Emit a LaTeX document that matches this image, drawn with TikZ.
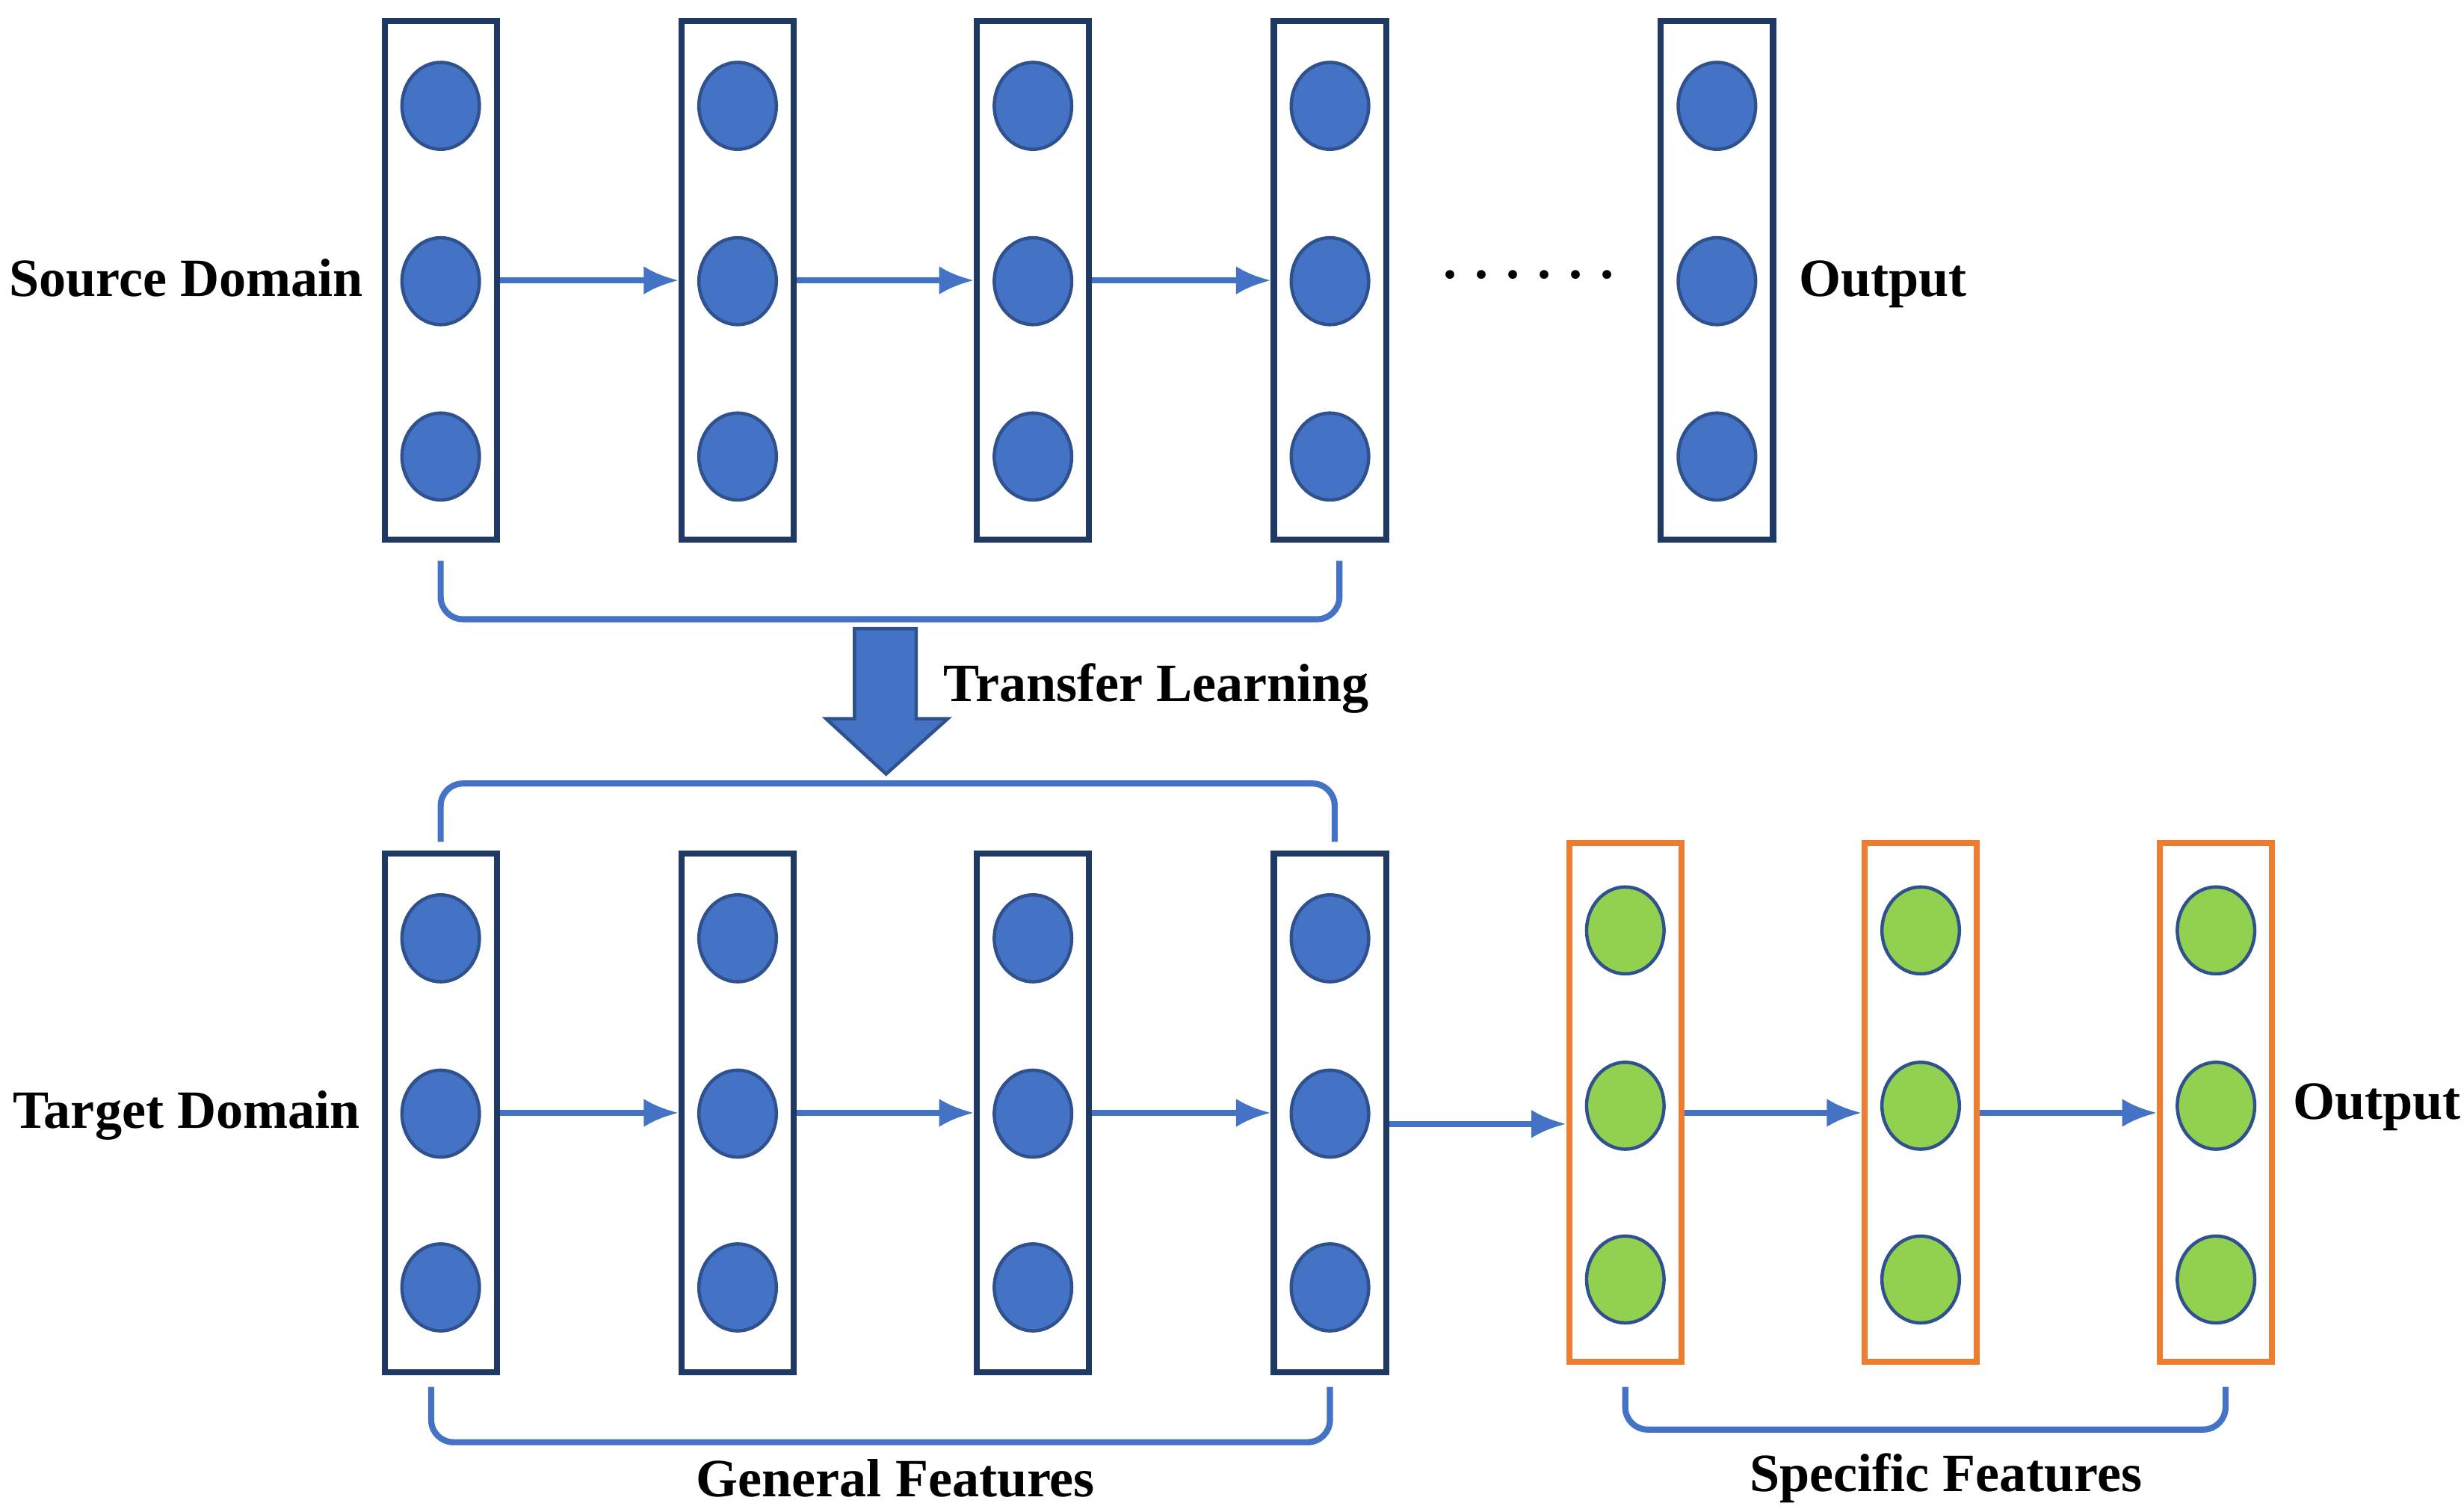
\documentclass[tikz,border=0pt]{standalone}
\usepackage{fontspec}
\setmainfont{Liberation Serif}
\usetikzlibrary{arrows.meta,shapes.geometric}
\definecolor{navy}{HTML}{1F3864}
\definecolor{cblue}{HTML}{4472C4}
\definecolor{cedge}{HTML}{2F528F}
\definecolor{cgreen}{HTML}{92D050}
\definecolor{corange}{HTML}{ED7D31}
\tikzset{
  layer/.style={draw=navy,line width=1.1pt,minimum width=0.71cm,minimum height=3.28cm,inner sep=0pt},
  spec/.style={layer,draw=corange},
  unit/.style={ellipse,draw=cedge,fill=cblue,line width=0.6pt,minimum width=0.49cm,minimum height=0.55cm,inner sep=0pt},
  gunit/.style={unit,fill=cgreen},
  arr/.style={cblue,line width=1pt,-{Latex[length=2.2mm,width=1.8mm]}},
  brk/.style={cblue,line width=1.1pt,rounded corners=4pt},
  lbl/.style={font=\bfseries\fontsize{9.7}{12}\selectfont}
}
\begin{document}
\begin{tikzpicture}[x=0.01cm,y=-0.01cm]
\useasboundingbox (0,0) rectangle (1560,957);

% source network
\foreach \i/\x in {1/279,2/467,3/654,4/842,5/1087}{
  \node[layer] (s\i) at (\x,177.5) {};
  \foreach \j/\y in {1/67,2/178,3/289}
    \node[unit] (s\i u\j) at (\x,\y) {};
}
\foreach \i/\k in {1/2,2/3,3/4}
  \draw[arr] (s\i.east) -- (s\k.west);
\node[lbl] (sdots) at (968,174) {.\,\,.\,\,.\,\,.\,\,.\,\,.};
\node[lbl] (srclbl) at (118,176) {Source Domain};
\node[lbl] (outtop) at (1192,180) {Output};
\draw[brk] (279,355) -- (279,392) -- (848,392) -- (848,355);

% transfer arrow
\draw[cedge,fill=cblue,line width=0.6pt] (541,398) -- (580,398) -- (580,455) -- (600,455)
  -- (561,490) -- (523,455) -- (541,455) -- cycle;
\node[lbl,anchor=west] (trlbl) at (585,436) {Transfer Learning};

% target network
\draw[brk] (279,533) -- (279,496) -- (845,496) -- (845,533);
\foreach \i/\x in {1/279,2/467,3/654,4/842}{
  \node[layer] (t\i) at (\x,704.5) {};
  \foreach \j/\y in {1/594,2/705,3/815}
    \node[unit] (t\i u\j) at (\x,\y) {};
}
\foreach \i/\x in {1/1029,2/1216,3/1403}{
  \node[spec] (g\i) at (\x,698) {};
  \foreach \j/\y in {1/589,2/700,3/810}
    \node[gunit] (g\i u\j) at (\x,\y) {};
}
\foreach \i/\k in {1/2,2/3,3/4}
  \draw[arr] (t\i.east) -- (t\k.west);
\draw[arr] ([yshift=-2pt]t4.east) -- ([yshift=-2pt]t4.east -| g1.west);
\draw[arr] (g1.east |- t4.east) -- (g2.west |- t4.east);
\draw[arr] (g2.east |- t4.east) -- (g3.west |- t4.east);
\node[lbl] (tgtlbl) at (118,706) {Target Domain};
\node[lbl] (outbot) at (1505,701) {Output};

% feature brackets
\draw[brk] (273,878) -- (273,913) -- (842,913) -- (842,878);
\draw[brk] (1029,878) -- (1029,905) -- (1409,905) -- (1409,878);
\node[lbl] (genlbl) at (567,936) {General Features};
\node[lbl] (speclbl) at (1232,936) {Specific Features};
\end{tikzpicture}
\end{document}
